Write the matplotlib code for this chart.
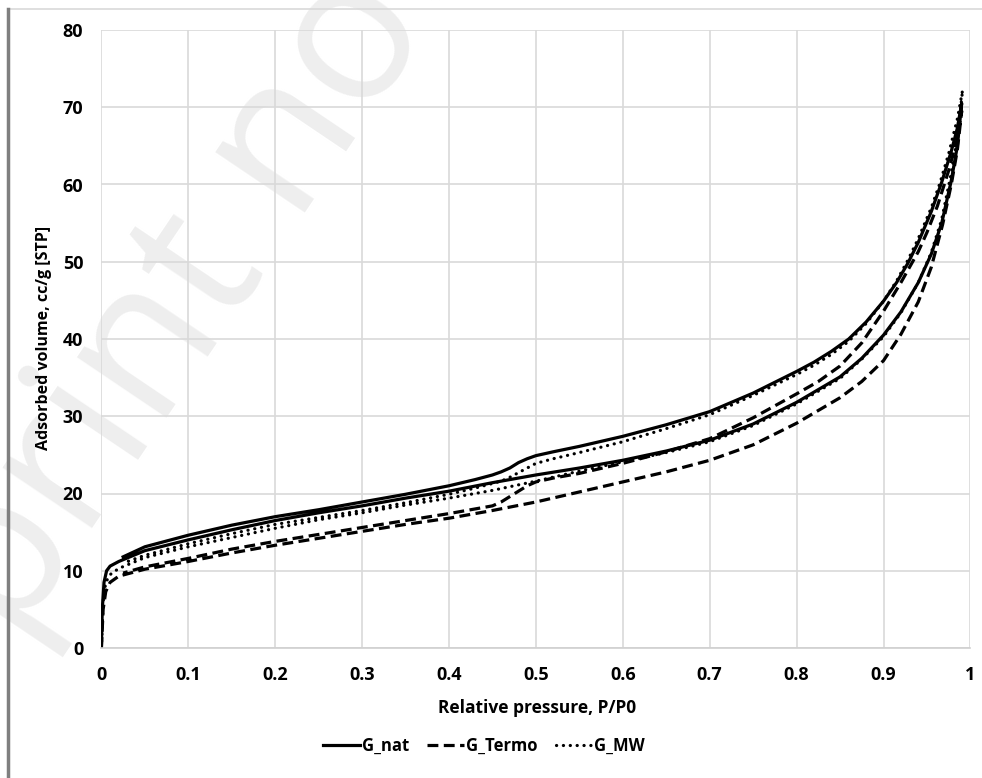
import matplotlib
matplotlib.use("Agg")
import matplotlib.pyplot as plt
from matplotlib.lines import Line2D

plt.rcParams['font.family'] = ['Open Sans', 'DejaVu Sans']
plt.rcParams['font.weight'] = 'bold'

# ---- data ----
nat_ads_x = [0, 0.001, 0.003, 0.006, 0.01, 0.02, 0.05, 0.1, 0.15, 0.2, 0.25, 0.3, 0.35, 0.4, 0.45, 0.5,
             0.55, 0.6, 0.65, 0.7, 0.75, 0.8, 0.85, 0.875, 0.9, 0.92, 0.94, 0.955, 0.967, 0.978, 0.985, 0.99]
nat_ads_y = [0, 5, 8.5, 10, 10.6, 11.2, 12.6, 14.0, 15.3, 16.5, 17.5, 18.4, 19.4, 20.3, 21.4, 22.4,
             23.3, 24.3, 25.5, 26.9, 29.0, 31.8, 35.1, 37.5, 40.5, 43.5, 47.3, 51.0, 55.0, 60.5, 65.0, 70.5]
nat_des_x = [0.99, 0.985, 0.978, 0.967, 0.955, 0.94, 0.928, 0.915, 0.9, 0.88, 0.86, 0.84, 0.82, 0.8,
             0.75, 0.7, 0.65, 0.6, 0.55, 0.52, 0.5, 0.49, 0.48, 0.47, 0.46, 0.45, 0.43, 0.4, 0.35, 0.3,
             0.25, 0.2, 0.15, 0.1, 0.05, 0.025]
nat_des_y = [70.5, 67.3, 64.3, 60.3, 56.5, 52.5, 49.8, 47.3, 44.9, 42.2, 40.0, 38.4, 37.0, 35.8,
             33.0, 30.6, 28.9, 27.4, 26.1, 25.4, 24.9, 24.5, 24.0, 23.3, 22.8, 22.4, 21.8, 21.0, 19.9, 18.9,
             17.9, 17.0, 15.9, 14.6, 13.1, 11.8]

termo_ads_x = [0, 0.002, 0.005, 0.01, 0.02, 0.05, 0.1, 0.15, 0.2, 0.25, 0.3, 0.35, 0.4, 0.45, 0.5, 0.55,
               0.6, 0.65, 0.7, 0.75, 0.8, 0.85, 0.875, 0.9, 0.92, 0.94, 0.955, 0.968, 0.978, 0.985, 0.99]
termo_ads_y = [0, 5, 7.3, 8.5, 9.3, 10.2, 11.2, 12.3, 13.3, 14.2, 15.1, 16.0, 16.8, 17.8, 18.9, 20.2,
               21.5, 22.8, 24.3, 26.3, 29.1, 32.4, 34.5, 37.2, 40.6, 44.8, 49.3, 54.8, 60.0, 64.5, 69.5]
termo_des_x = [0.99, 0.985, 0.975, 0.962, 0.95, 0.94, 0.92, 0.9, 0.875, 0.85, 0.825, 0.8, 0.75, 0.7, 0.65,
               0.6, 0.55, 0.52, 0.5, 0.49, 0.48, 0.47, 0.46, 0.45, 0.4, 0.35, 0.3, 0.25, 0.2, 0.15, 0.1,
               0.05, 0.025]
termo_des_y = [69.5, 66.0, 61.8, 57.2, 53.8, 51.3, 47.3, 43.6, 39.5, 36.5, 34.5, 32.9, 29.8, 27.1, 25.4,
               23.9, 22.6, 22.0, 21.5, 21.0, 20.3, 19.6, 18.9, 18.4, 17.4, 16.5, 15.6, 14.7, 13.8, 12.8, 11.6,
               10.5, 9.7]

mw_ads_x = [0, 0.002, 0.005, 0.01, 0.02, 0.05, 0.1, 0.15, 0.2, 0.25, 0.3, 0.35, 0.4, 0.45, 0.5, 0.55,
            0.6, 0.65, 0.7, 0.75, 0.8, 0.85, 0.875, 0.9, 0.92, 0.94, 0.955, 0.967, 0.978, 0.985, 0.991]
mw_ads_y = [0, 6, 8.5, 9.5, 10.3, 11.7, 13.1, 14.3, 15.5, 16.6, 17.5, 18.5, 19.4, 20.4, 21.6, 22.9,
            24.1, 25.3, 26.7, 28.8, 31.6, 34.9, 37.4, 40.3, 43.4, 47.3, 51.2, 55.5, 61.5, 66.0, 72.2]
mw_des_x = [0.991, 0.985, 0.975, 0.965, 0.955, 0.94, 0.928, 0.915, 0.9, 0.88, 0.86, 0.84, 0.82, 0.8,
            0.75, 0.7, 0.65, 0.6, 0.55, 0.52, 0.5, 0.49, 0.48, 0.47, 0.46, 0.45, 0.43, 0.4, 0.35, 0.3,
            0.25, 0.2, 0.15, 0.1, 0.05, 0.025]
mw_des_y = [72.2, 68.5, 64.0, 60.2, 57.0, 53.0, 50.2, 47.5, 44.9, 42.0, 39.7, 38.0, 36.6, 35.4,
            32.7, 30.2, 28.4, 26.7, 25.3, 24.5, 23.9, 23.3, 22.7, 22.1, 21.6, 21.3, 20.7, 19.9, 18.8, 17.8,
            16.9, 16.0, 14.8, 13.5, 12.0, 11.0]

series_names = ["G_nat", "G_Termo", "G_MW"]
x_ticks = [0, 0.1, 0.2, 0.3, 0.4, 0.5, 0.6, 0.7, 0.8, 0.9, 1]
x_tick_labels = ["0", "0.1", "0.2", "0.3", "0.4", "0.5", "0.6", "0.7", "0.8", "0.9", "1"]
y_ticks = [0, 10, 20, 30, 40, 50, 60, 70, 80]

# ---- figure ----
fig = plt.figure(figsize=(9.82, 7.78), dpi=100)

# watermark (behind everything)
fig.text(200/982, 1-275/778, "print not", rotation=56, fontsize=145, color="#eeeeee",
         ha="center", va="center", fontweight="normal", zorder=-5)

# chart area borders
fig.add_artist(Line2D([8/982, 1], [1-9/778, 1-9/778], color="#d9d9d9", lw=1.2))
fig.add_artist(Line2D([8/982, 8/982], [0, 1-9/778], color="#7f7f7f", lw=2.5))

ax = fig.add_axes([101.4/982, 1-648/778, (970.4-101.4)/982, (648-30)/778])
ax.patch.set_alpha(0)

lw = 2.3
styles = [dict(ls="-"),
          dict(ls=(0, (3.4, 1.7))),
          dict(ls=(0, (0.05, 2.1)), dash_capstyle="round")]
curves = [(nat_ads_x + nat_des_x, nat_ads_y + nat_des_y),
          (termo_ads_x + termo_des_x, termo_ads_y + termo_des_y),
          (mw_ads_x + mw_des_x, mw_ads_y + mw_des_y)]
handles = []
for (xs, ys), st, name in zip(curves, styles, series_names):
    ln, = ax.plot(xs, ys, color="black", lw=lw, label=name, solid_joinstyle="round", **st)
    handles.append(ln)

ax.set_xlim(0, 1)
ax.set_ylim(0, 80)
ax.set_xticks(x_ticks)
ax.set_xticklabels(x_tick_labels)
ax.set_yticks(y_ticks)
ax.grid(True, color="#d9d9d9", lw=1.2)
ax.set_axisbelow(True)
for s in ["top", "right", "left"]:
    ax.spines[s].set_visible(False)
ax.spines["bottom"].set_color("#d0d0d0")
ax.spines["bottom"].set_linewidth(1.2)
ax.tick_params(length=0, labelsize=13, colors="black")
ax.tick_params(axis="x", pad=13)
ax.tick_params(axis="y", pad=13)
for lab in ax.get_xticklabels() + ax.get_yticklabels():
    lab.set_fontweight("bold")

fig.text(537/982, 1-708/778, "Relative pressure, P/P0", fontsize=12.5, fontweight="bold",
         ha="center", va="center")
fig.text(44/982, 1-338/778, "Adsorbed volume, cc/g [STP]", fontsize=11.5, fontweight="bold",
         ha="center", va="center", rotation=90)

leg = fig.legend(handles=handles, loc="center", bbox_to_anchor=(484/982, 1-746/778), ncol=3,
                 frameon=False, fontsize=12, handlelength=2.2, handletextpad=0.1, columnspacing=1.1)
for t in leg.get_texts():
    t.set_fontweight("bold")

fig.savefig("out.png", dpi=100)
